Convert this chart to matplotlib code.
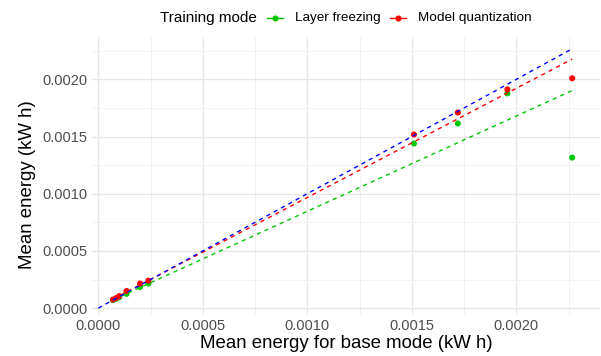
import numpy as np
import matplotlib
matplotlib.use("Agg")
import matplotlib.pyplot as plt
from matplotlib.lines import Line2D
from matplotlib.ticker import MultipleLocator, FormatStrFormatter

plt.rcParams['font.family'] = ['Liberation Sans', 'DejaVu Sans']

# Mean energy of the base mode (kW h) for each configuration
base_energy = [0.000070, 0.000085, 0.000100, 0.000135, 0.000200, 0.000240,
               0.001510, 0.001720, 0.001957, 0.002267]

# Mean energy of each training mode (kW h) for the same configurations
freezing_energy = [0.000070, 0.000082, 0.000095, 0.000125, 0.000185, 0.000215,
                   0.001439, 0.001614, 0.001877, 0.001316]
quantization_energy = [0.000075, 0.000088, 0.000105, 0.000150, 0.000215, 0.000240,
                       0.001518, 0.001710, 0.001912, 0.002009]

# Linear trends per mode: slope, intercept
freezing_trend = [0.833, 0.0000135]
quantization_trend = [0.955, 0.000012]

modes = ["Layer freezing", "Model quantization"]
mode_colors = ["#00C800", "#FF0000"]
ref_color = "#0000FF"
legend_title = "Training mode"

W, H = 601, 356
fig = plt.figure(figsize=(W / 100, H / 100), dpi=100)
ax = fig.add_axes([92 / W, (H - 315) / H, (600 - 92) / W, (315 - 37) / H])

x = np.array(base_energy)
series = [np.array(freezing_energy), np.array(quantization_energy)]
trends = [freezing_trend, quantization_trend]

for y, c in zip(series, mode_colors):
    ax.scatter(x, y, s=19, color=c, edgecolors="none", zorder=3)

x_fit = np.array([x.min(), x.max()])
for (slope, icpt), c in zip(trends, mode_colors):
    ax.plot(x_fit, slope * x_fit + icpt, color=c, lw=1.0, dashes=(3.0, 3.0), zorder=4)

x_ref = np.array([0.0, x.max()])
ax.plot(x_ref, x_ref, color=ref_color, lw=1.0, dashes=(3.0, 3.0), zorder=4)

ax.set_xlim(-0.00003, 0.0024)
ax.set_ylim(-0.00006, 0.00237)
ax.xaxis.set_major_locator(MultipleLocator(0.0005))
ax.xaxis.set_minor_locator(MultipleLocator(0.00025))
ax.yaxis.set_major_locator(MultipleLocator(0.0005))
ax.yaxis.set_minor_locator(MultipleLocator(0.00025))
ax.xaxis.set_major_formatter(FormatStrFormatter('%.4f'))
ax.yaxis.set_major_formatter(FormatStrFormatter('%.4f'))

ax.grid(which="major", color="#E6E6E6", lw=1.0)
ax.grid(which="minor", color="#F2F2F2", lw=0.7)
ax.set_axisbelow(True)
for s in ax.spines.values():
    s.set_visible(False)
ax.tick_params(which="both", length=0, labelsize=10.5, labelcolor="#4D4D4D", pad=3)

ax.set_xlabel("Mean energy for base mode (kW h)", fontsize=13.4, color="black", labelpad=1)
ax.set_ylabel("Mean energy (kW h)", fontsize=13.4, color="black")
ax.yaxis.set_label_coords(-0.11, 0.47)

# Horizontal legend above the panel: title, then key + label per mode
ly = 1 - 18 / H
fig.text(160 / W, ly, legend_title, fontsize=11, ha="left", va="center")
key_x = [275, 398]
for kx, label, c in zip(key_x, modes, mode_colors):
    fig.add_artist(Line2D([(kx - 8) / W, (kx + 8) / W], [ly, ly], color=c, lw=1.0,
                          transform=fig.transFigure))
    fig.add_artist(Line2D([kx / W], [ly], color=c, marker="o", markersize=4.4,
                          markeredgewidth=0, transform=fig.transFigure))
    fig.text((kx + 20) / W, ly, label, fontsize=9.7, ha="left", va="center")

fig.savefig("out.png", dpi=100)
